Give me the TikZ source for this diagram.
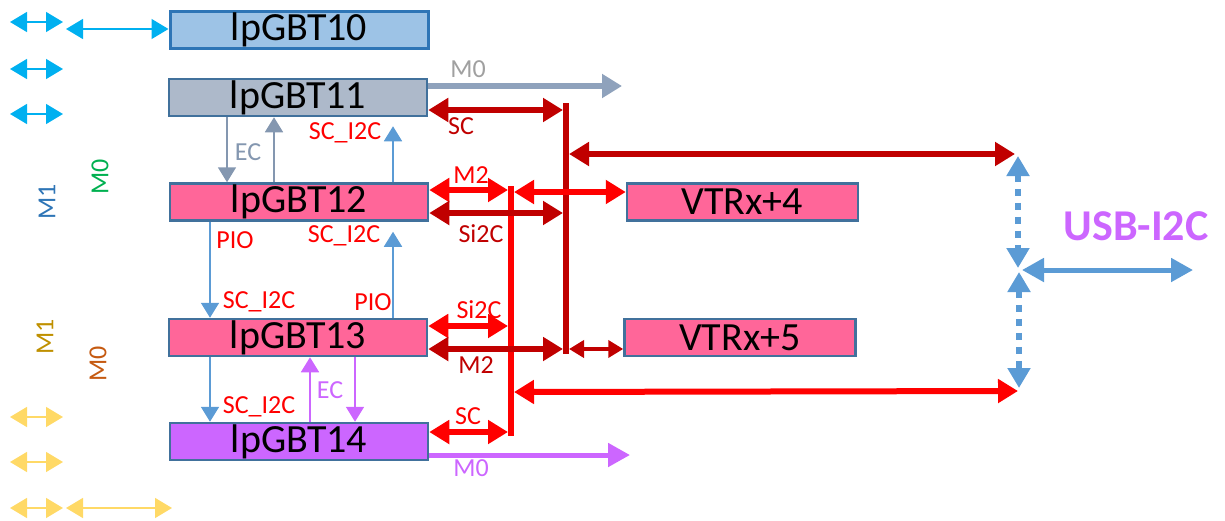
\documentclass[tikz,border=0pt]{standalone}
\usepackage{fontspec}
\setmainfont{Carlito}
\usetikzlibrary{arrows.meta}
\definecolor{cAfill}{HTML}{9DC3E6}
\definecolor{cAdraw}{HTML}{2E75B6}
\definecolor{cBfill}{HTML}{ADB9CA}
\definecolor{boxdraw}{HTML}{41719C}
\definecolor{pinkf}{HTML}{FF6699}
\definecolor{purpf}{HTML}{CC66FF}
\definecolor{dred}{HTML}{C00000}
\definecolor{bred}{HTML}{FF0000}
\definecolor{greyar}{HTML}{8497B0}
\definecolor{greym}{HTML}{8FA2BC}
\definecolor{greylab}{HTML}{A0A0A0}
\definecolor{bluear}{HTML}{5B9BD5}
\definecolor{cyanar}{HTML}{00B0F0}
\definecolor{yelar}{HTML}{FFD966}
\definecolor{mblue}{HTML}{2E75B6}
\definecolor{mgreen}{HTML}{00B050}
\definecolor{mgold}{HTML}{BF9000}
\definecolor{morange}{HTML}{C55A11}
\begin{document}
\begin{tikzpicture}[x=1pt,y=-1pt,
  box/.style={draw=boxdraw, line width=2.5pt, inner sep=0pt, minimum width=258pt,
    minimum height=37pt, font=\fontsize{40}{41}\selectfont},
  vbox/.style={box, minimum width=231pt, fill=pinkf},
  lab/.style={inner sep=0pt, font=\fontsize{26}{27}\selectfont},
  bigtip/.style={line width=6pt, >={Triangle[length=20pt,width=23pt]}},
  smalltip/.style={line width=1.5pt, >={Triangle[length=17pt,width=20pt]}},
  vtip/.style={line width=1.8pt, >={Triangle[length=15pt,width=18pt]}},
  midtip/.style={line width=4pt, >={Triangle[length=15pt,width=17pt]}},
  dotbus/.style={line width=6pt, dash pattern=on 7pt off 7pt, >={Triangle[length=20pt,width=22pt]}}
]
\useasboundingbox (0,0) rectangle (1225,520);

% boxes
\node[box, draw=cAdraw, line width=3pt, fill=cAfill] (b10) at (299,29.5) {lpGBT10};
\node[box, fill=cBfill] (b11) at (298,97.5) {lpGBT11};
\node[box, fill=pinkf] (b12) at (299,202) {lpGBT12};
\node[box, fill=pinkf] (b13) at (298,337.5) {lpGBT13};
\node[box, fill=purpf] (b14) at (299,441.5) {lpGBT14};
\node[vbox] (v4) at (742.5,202) {VTRx+4};
\node[vbox] (v5) at (740,337.5) {VTRx+5};

% left side arrows
\coordinate (ca1) at (10,22);  \coordinate (ca1e) at (63,22);
\coordinate (ca2) at (10,69);  \coordinate (ca2e) at (63,69);
\coordinate (ca3) at (10,114); \coordinate (ca3e) at (63,114);
\coordinate (cl) at (66,29);
\draw[smalltip, cyanar, <->] (ca1) -- (ca1e);
\draw[smalltip, cyanar, <->] (ca2) -- (ca2e);
\draw[smalltip, cyanar, <->] (ca3) -- (ca3e);
\draw[smalltip, cyanar, <->] (cl) -- (b10.west |- cl);
\coordinate (ya1) at (10,417); \coordinate (ya1e) at (63,417);
\coordinate (ya2) at (10,462); \coordinate (ya2e) at (63,462);
\coordinate (ya3) at (10,508); \coordinate (ya3e) at (63,508);
\coordinate (yl) at (66,508); \coordinate (yle) at (172,508);
\draw[smalltip, yelar, <->] (ya1) -- (ya1e);
\draw[smalltip, yelar, <->] (ya2) -- (ya2e);
\draw[smalltip, yelar, <->] (ya3) -- (ya3e);
\draw[smalltip, yelar, <->] (yl) -- (yle);

% rotated mode labels
\node[lab, rotate=90, text=mblue] (m1a) at (47,202) {M1};
\node[lab, rotate=90, text=mgreen] (m0a) at (100,177) {M0};
\node[lab, rotate=90, text=mgold] (m1b) at (45,337) {M1};
\node[lab, rotate=90, text=morange] (m0b) at (98,364) {M0};

% vertical links 11-12
\draw[vtip, greyar, ->] (b11.south -| 227,0) -- (b12.north -| 227,0);
\draw[vtip, greyar, ->] (b12.north -| 274,0) -- (b11.south -| 274,0);
\node[lab, text=greyar] (ec1) at (248,152) {EC};
\draw[vtip, bluear, ->, shorten >=9pt] (b12.north -| 393,0) -- (b11.south -| 393,0);
\node[lab, text=bred] (s1) at (345,133) {SC\_I2C};

% vertical links 12-13
\draw[vtip, bluear, ->] (b12.south -| 210,0) -- (b13.north -| 210,0);
\draw[vtip, bluear, ->, shorten >=10pt] (b13.north -| 393,0) -- (b12.south -| 393,0);
\node[lab, text=bred] (p1) at (235,240) {PIO};
\node[lab, text=bred] (s2) at (344,236) {SC\_I2C};
\node[lab, text=bred] (s3) at (259,302) {SC\_I2C};
\node[lab, text=bred] (p2) at (373,302) {PIO};

% vertical links 13-14
\draw[vtip, bluear, ->] (b13.south -| 210,0) -- (b14.north -| 210,0);
\node[lab, text=bred] (s4) at (259,407) {SC\_I2C};
\draw[vtip, purpf, ->] (b14.north -| 310,0) -- (b13.south -| 310,0);
\draw[vtip, purpf, ->] (b13.south -| 355,0) -- (b14.north -| 355,0);
\node[lab, text=purpf] (ec2) at (330,390) {EC};

% buses
\coordinate (Atop) at (566,103); \coordinate (Abot) at (566,354);
\coordinate (Btop) at (511,186); \coordinate (Bbot) at (511,436);
\draw[line width=6pt, dred] (Atop) -- (Abot);
\draw[line width=6pt, bred] (Btop) -- (Bbot);

% right-side horizontal links
\coordinate (gm) at (622,86);
\draw[bigtip, greym, ->] (b11.east |- gm) -- (gm);
\node[lab, text=greylab] (gm0) at (468,69) {M0};

\draw[bigtip, dred, <->] (b11.east |- 0,110) -- (563,110);
\node[lab, text=dred] (sc1) at (461,126) {SC};

\coordinate (usbA) at (1015,154);
\draw[bigtip, dred, <->] (569,154) -- (usbA);

\draw[bigtip, bred, <->] (b12.east |- 0,190) -- (508,190);
\node[lab, text=bred] (m2a) at (471,175) {M2};
\draw[bigtip, bred, <->] (514,192) -- (v4.west |- 0,192);

\draw[bigtip, dred, <->] (b12.east |- 0,213) -- (563,213);
\node[lab, text=dred] (si1) at (481,234) {Si2C};

\draw[bigtip, bred, <->] (b13.east |- 0,326) -- (508,326);
\node[lab, text=bred] (si2) at (479,310) {Si2C};
\draw[bigtip, dred, <->] (b13.east |- 0,349) -- (563,349);
\node[lab, text=dred] (m2b) at (476,365) {M2};
\draw[midtip, dred, <->] (569,349) -- (v5.west |- 0,349);

\coordinate (usbB) at (1018,391);
\draw[bigtip, bred, <->] (514,392) -- (usbB);

\draw[bigtip, bred, <->] (b14.east |- 0,432) -- (508,432);
\node[lab, text=bred] (sc2) at (468,416) {SC};
\coordinate (pm) at (630,455);
\draw[line width=5pt, purpf, ->, >={Triangle[length=22pt,width=23pt]}] (b14.east |- pm) -- (pm);
\node[lab, text=purpf] (pm0) at (471,468) {M0};

% USB-I2C
\coordinate (hub) at (1020,270);
\coordinate (usbR) at (1193,270);
\draw[dotbus, bluear, <->] (1018,156) -- (1018,268);
\draw[dotbus, bluear, <->] (1019,272) -- (1019,388);
\draw[line width=5pt, bluear, <->, >={Triangle[length=22pt,width=23pt]}] (1022,270) -- (usbR);
\node[inner sep=0pt, text=purpf, font=\bfseries\fontsize{44}{45}\selectfont] (usb) at (1136,226) {USB-I2C};
\end{tikzpicture}
\end{document}
